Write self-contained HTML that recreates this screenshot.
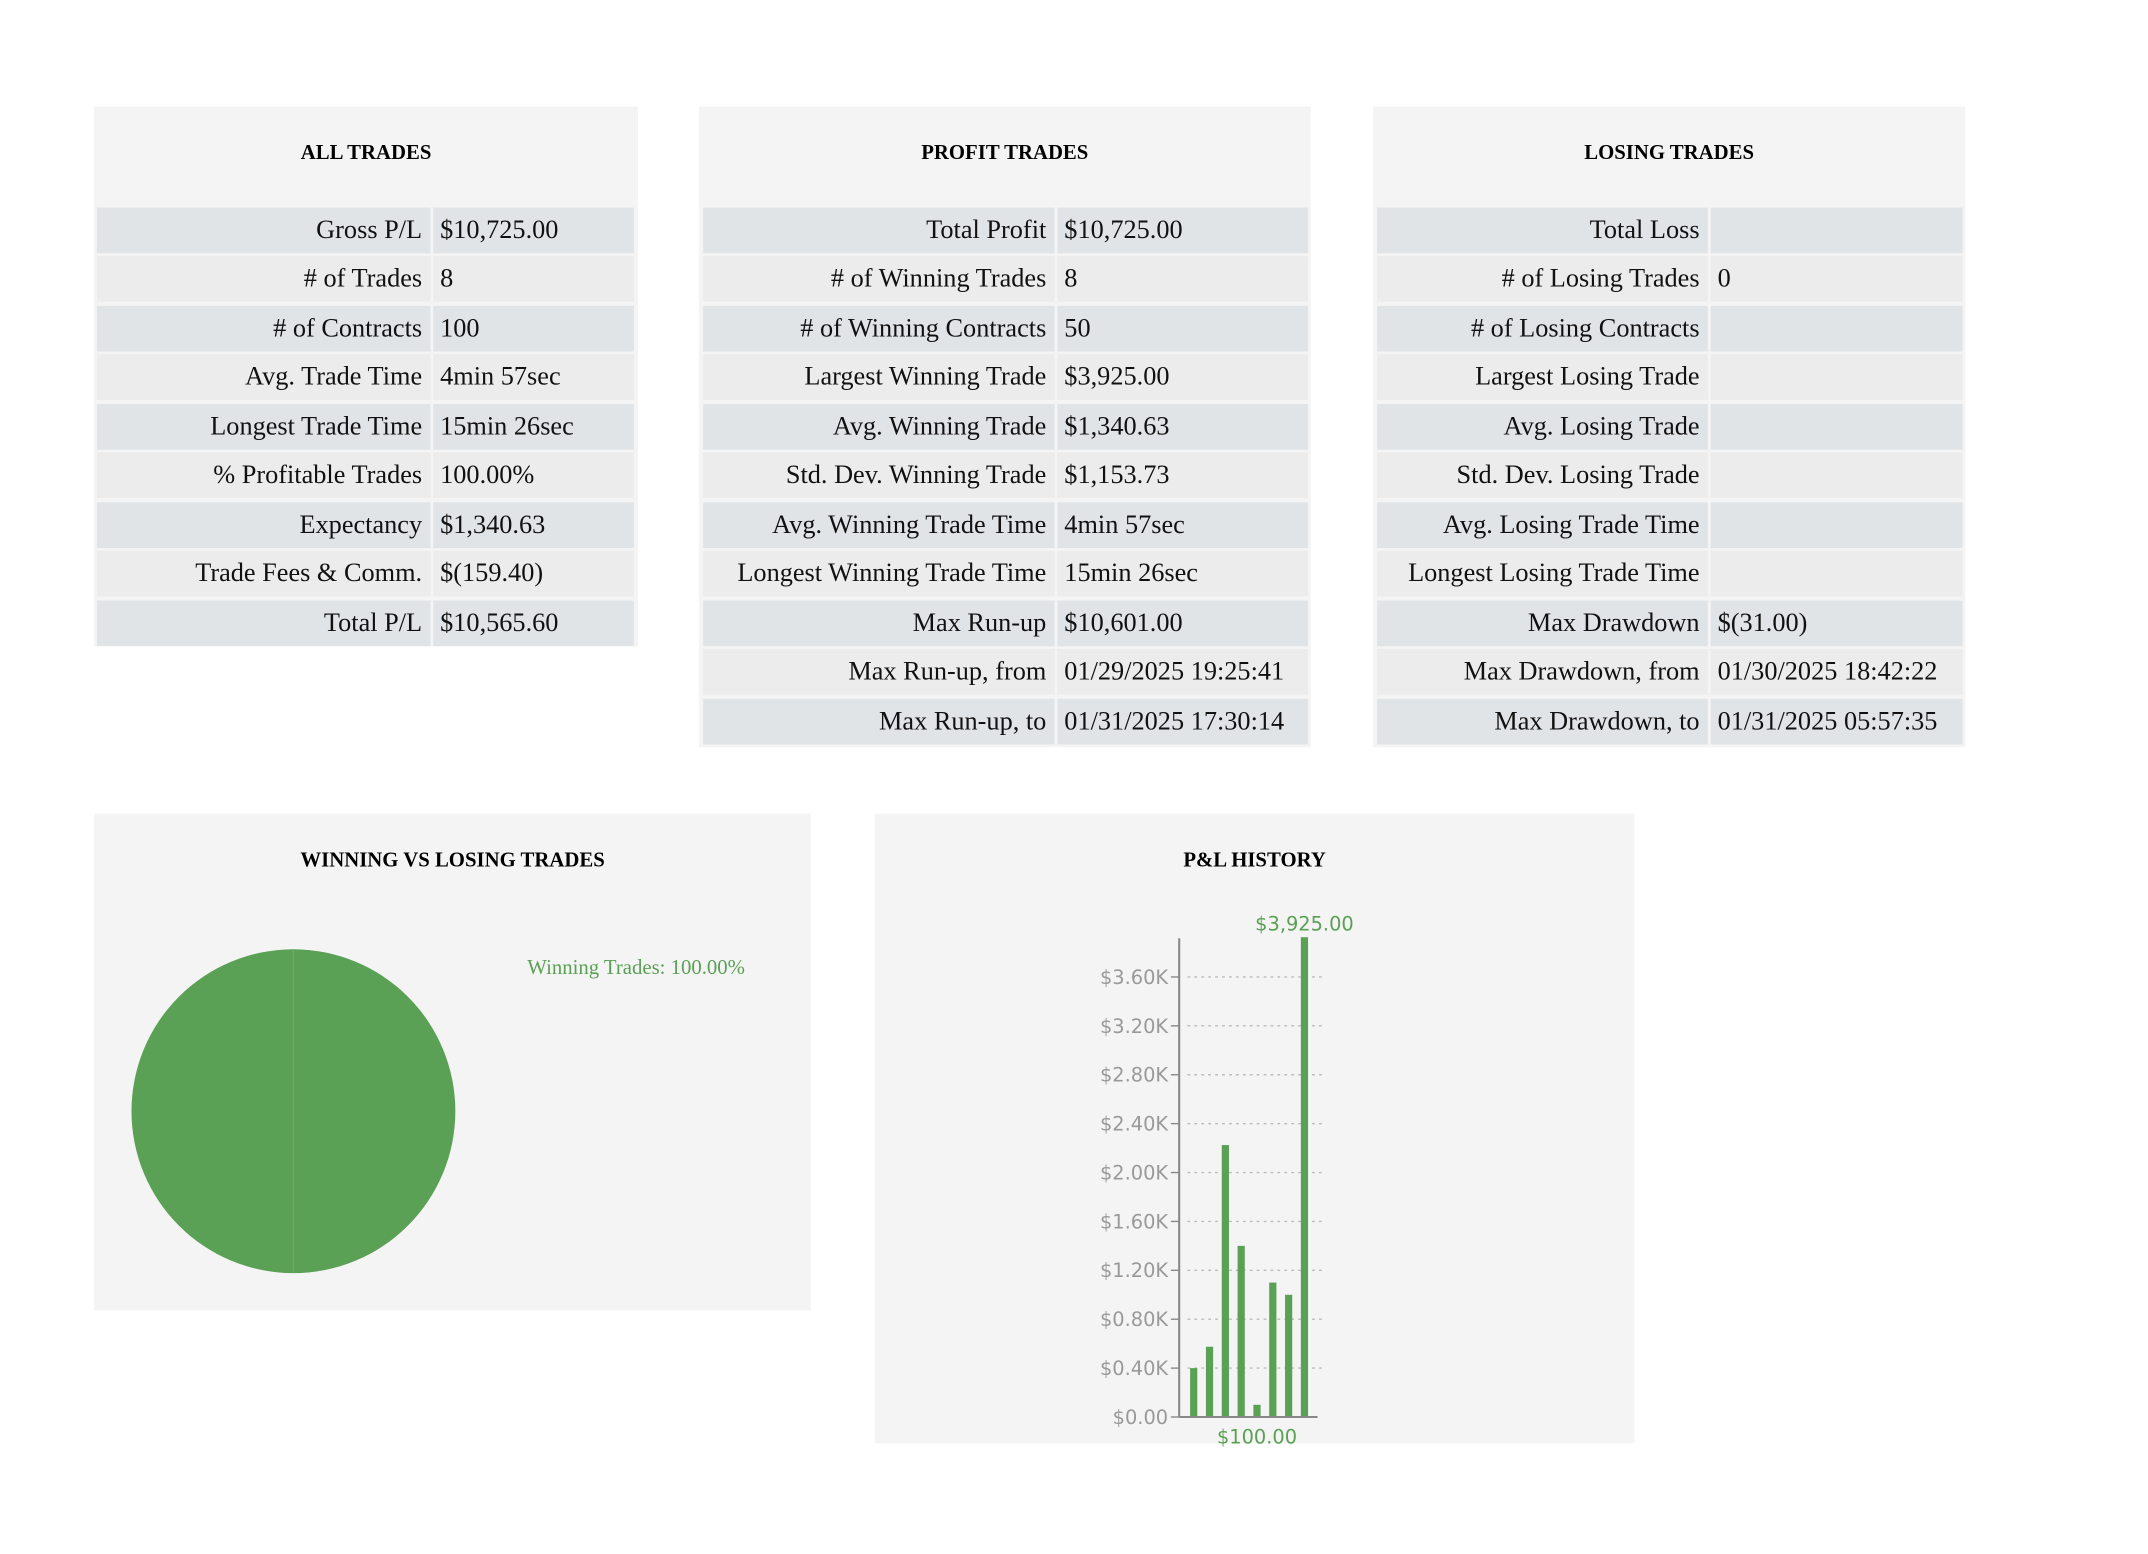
<!DOCTYPE html>
<html><head><meta charset="utf-8">
<style>
html,body{margin:0;padding:0;background:#fff;}
body{width:2148px;height:1554px;overflow:hidden;position:relative;}
#wrap{position:absolute;left:0;top:0;width:1552px;height:1123px;transform:scale(1.38402,1.3838);transform-origin:0 0;font-family:"Liberation Serif",serif;}
.panel{position:absolute;background:#f4f4f4;}
.title{position:absolute;left:0;right:0;text-align:center;font-weight:bold;font-size:15px;color:#000;}
.cell{position:absolute;height:33px;line-height:34px;font-size:19px;color:#111;white-space:nowrap;box-sizing:border-box;}
.lab{text-align:right;padding-right:6px;}
.val{text-align:left;padding-left:5px;}
</style></head><body>
<div id="wrap">
  <div class="panel" style="left:68px;top:77px;width:393px;height:390px;"><div class="title" style="top:26px;">ALL TRADES</div></div>
  <div class="panel" style="left:505px;top:77px;width:442px;height:463px;"><div class="title" style="top:26px;">PROFIT TRADES</div></div>
  <div class="panel" style="left:992px;top:77px;width:428px;height:463px;"><div class="title" style="top:26px;">LOSING TRADES</div></div>
  <div class="panel" style="left:68px;top:588px;width:518px;height:359px;"><div class="title" style="top:26px;">WINNING VS LOSING TRADES</div></div>
  <div class="panel" style="left:632px;top:588px;width:549px;height:455px;"><div class="title" style="top:26px;">P&amp;L HISTORY</div></div>
  <div id="tables"></div>
  <svg id="pie" width="1552" height="1123" style="position:absolute;left:0;top:0;"></svg>
  <svg id="bar" width="1552" height="1123" style="position:absolute;left:0;top:0;"></svg>
</div>
<script>
const allLabels=["Gross P/L","# of Trades","# of Contracts","Avg. Trade Time","Longest Trade Time","% Profitable Trades","Expectancy","Trade Fees & Comm.","Total P/L"];
const allValues=["$10,725.00","8","100","4min 57sec","15min 26sec","100.00%","$1,340.63","$(159.40)","$10,565.60"];
const profitLabels=["Total Profit","# of Winning Trades","# of Winning Contracts","Largest Winning Trade","Avg. Winning Trade","Std. Dev. Winning Trade","Avg. Winning Trade Time","Longest Winning Trade Time","Max Run-up","Max Run-up, from","Max Run-up, to"];
const profitValues=["$10,725.00","8","50","$3,925.00","$1,340.63","$1,153.73","4min 57sec","15min 26sec","$10,601.00","01/29/2025 19:25:41","01/31/2025 17:30:14"];
const lossLabels=["Total Loss","# of Losing Trades","# of Losing Contracts","Largest Losing Trade","Avg. Losing Trade","Std. Dev. Losing Trade","Avg. Losing Trade Time","Longest Losing Trade Time","Max Drawdown","Max Drawdown, from","Max Drawdown, to"];
const lossValues=["","0","","","","","","","$(31.00)","01/30/2025 18:42:22","01/31/2025 05:57:35"];

function buildTable(prefix,labels,values,x0,labW,valX,valW){
  const host=document.getElementById('tables');
  labels.forEach((l,i)=>{
    const top=150+i*35.45;
    const bg=i%2===0?'#e1e4e7':'#ececec';
    const a=document.createElement('div');
    a.className='cell lab';
    
    
    a.style.cssText=`left:${x0}px;top:${top}px;width:${labW}px;background:${bg}`;
    a.textContent=l;host.appendChild(a);
    const b=document.createElement('div');
    b.className='cell val';
    
    
    b.style.cssText=`left:${valX}px;top:${top}px;width:${valW}px;background:${bg}`;
    b.textContent=values[i];host.appendChild(b);
  });
}
buildTable('all-trades',allLabels,allValues,70,241,313,145);
buildTable('profit-trades',profitLabels,profitValues,508,254,764,181);
buildTable('losing-trades',lossLabels,lossValues,995,239,1236,182);

const NS='http://www.w3.org/2000/svg';
function mk(parent,tag,attrs,text){const e=document.createElementNS(NS,tag);for(const k in attrs)e.setAttribute(k,attrs[k]);if(text!==undefined)e.textContent=text;parent.appendChild(e);return e;}

// Pie
const pieLabels=["Winning Trades","Losing Trades"];
const pieValues=[100,0];
const pie=document.getElementById('pie');
const cx=212,cy=803,r=117,total=pieValues.reduce((a,b)=>a+b,0);
let ang=0;
pieValues.forEach((v,i)=>{
  if(v<=0)return;
  const frac=v/total;
  let el;
  if(frac>=0.9999){
    el=mk(pie,'circle',{cx:cx,cy:cy,r:r,fill:'#5aa055'});
  }else{
    const a0=ang*2*Math.PI-Math.PI/2,a1=(ang+frac)*2*Math.PI-Math.PI/2;
    el=mk(pie,'path',{d:`M${cx},${cy}L${cx+r*Math.cos(a0)},${cy+r*Math.sin(a0)}A${r},${r} 0 ${frac>0.5?1:0} 1 ${cx+r*Math.cos(a1)},${cy+r*Math.sin(a1)}Z`,fill:i===0?'#5aa055':'#d9534f'});
  }
  
  
  ang+=frac;
});
const seam=mk(pie,'line',{x1:cx,y1:cy-r,x2:cx,y2:cy+r,stroke:'#6aac65','stroke-width':1});


const lg=mk(pie,'text',{x:381,y:704,fill:'#5aa055','font-size':15,'font-family':'Liberation Serif, serif'},pieLabels[0]+': '+(pieValues[0]/total*100).toFixed(2)+'%');



// Bar chart
const barCategories=[1,2,3,4,5,6,7,8];
const barValues=[400,575,2225,1400,100,1100,1000,3925];
const yTicks=[0,400,800,1200,1600,2000,2400,2800,3200,3600];
const yTickLabels=["$0.00","$0.40K","$0.80K","$1.20K","$1.60K","$2.00K","$2.40K","$2.80K","$3.20K","$3.60K"];
const bar=document.getElementById('bar');
const axX=852,y0=1024,pxPer=(1024-706)/3600;
const yS=v=>y0-v*pxPer;
const xS=i=>862.5+i*11.43;
yTicks.forEach((t,i)=>{
  const y=yS(t);
  if(t>0){const g=mk(bar,'line',{x1:858,y1:y,x2:955,y2:y,stroke:'#bbb','stroke-width':1,'stroke-dasharray':'2,3'});
  
  }
  const tk=mk(bar,'line',{x1:846,y1:y,x2:852,y2:y,stroke:'#888','stroke-width':1});
  
  
  const tl=mk(bar,'text',{x:844,y:y+5,'text-anchor':'end',fill:'#999','font-size':14,'font-family':'DejaVu Sans, sans-serif'},yTickLabels[i]);
  
  
});
const ya=mk(bar,'line',{x1:axX,y1:678,x2:axX,y2:y0,stroke:'#888','stroke-width':1.5});


barValues.forEach((v,i)=>{
  const b=mk(bar,'rect',{x:xS(i)-2.6,y:yS(v),width:5.2,height:y0-yS(v),fill:'#5aa055'});
  
  
});
const xa=mk(bar,'line',{x1:axX,y1:y0,x2:952,y2:y0,stroke:'#888','stroke-width':1.5});


const maxI=barValues.indexOf(Math.max(...barValues)),minI=barValues.indexOf(Math.min(...barValues));
const fmt=v=>'$'+v.toLocaleString('en-US',{minimumFractionDigits:2,maximumFractionDigits:2});
const mx=mk(bar,'text',{x:xS(maxI),y:yS(barValues[maxI])-5,'text-anchor':'middle',fill:'#5aa055','font-size':14,'font-family':'DejaVu Sans, sans-serif'},fmt(barValues[maxI]));


const mn=mk(bar,'text',{x:xS(minI),y:y0+19,'text-anchor':'middle',fill:'#5aa055','font-size':14,'font-family':'DejaVu Sans, sans-serif'},fmt(barValues[minI]));


</script>
</body></html>
